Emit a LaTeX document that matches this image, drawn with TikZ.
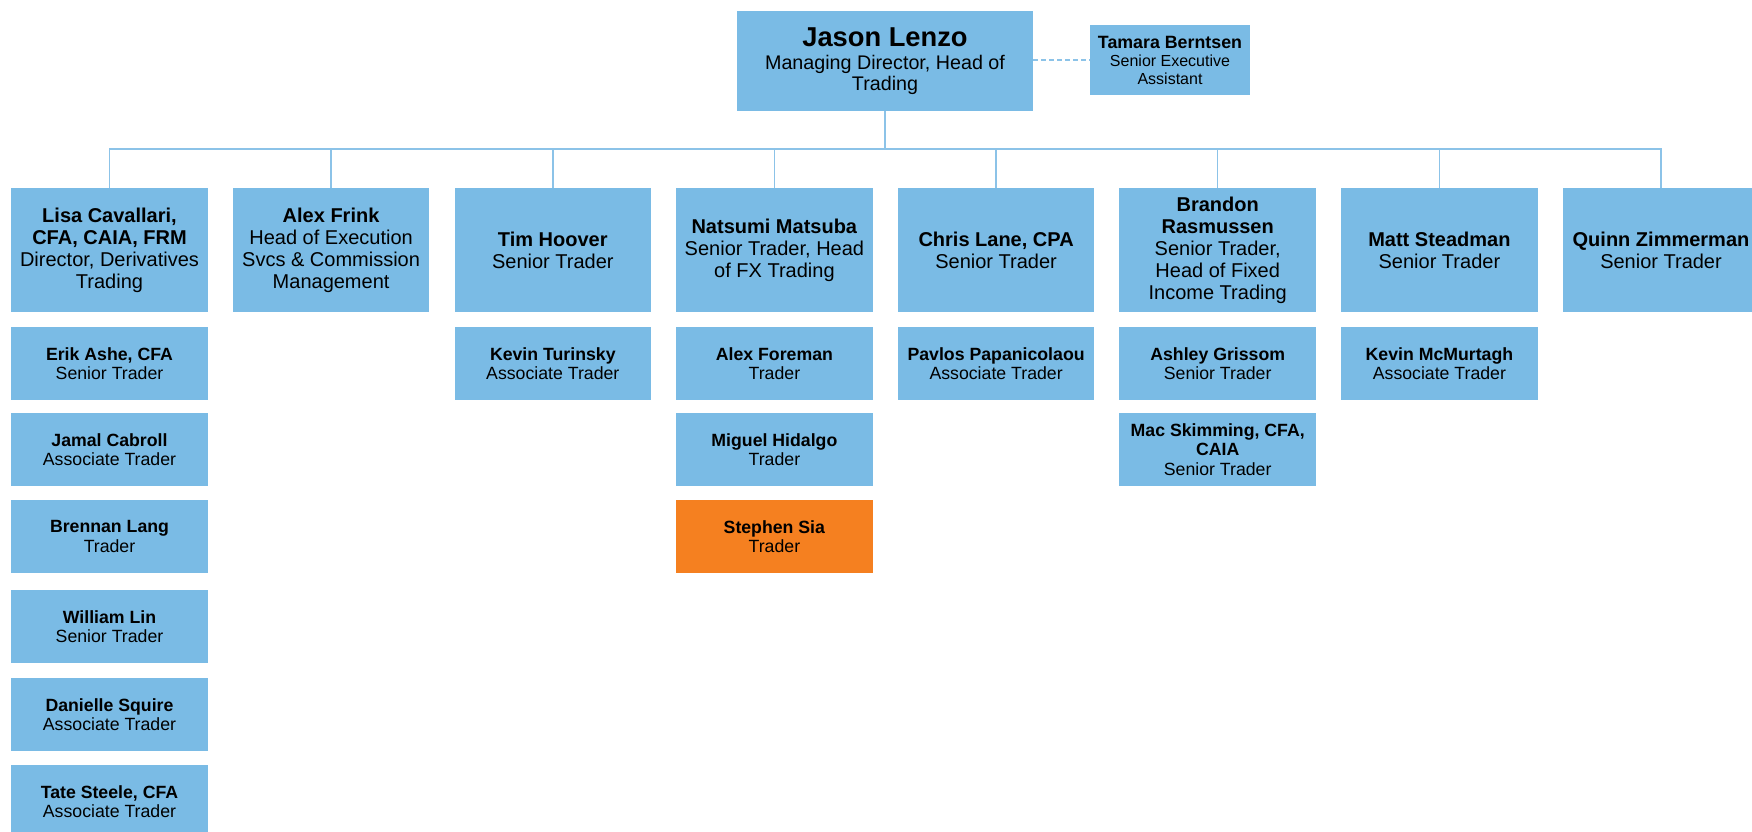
\documentclass[tikz,border=0pt]{standalone}
\usepackage{fontspec}
\setmainfont{Liberation Sans}
\definecolor{boxblue}{RGB}{122,187,229}
\definecolor{lineblue}{RGB}{140,195,232}
\definecolor{boxorange}{RGB}{245,128,32}
\tikzset{
  orgbox/.style={fill=boxblue, draw=none, inner sep=2pt, align=center, text=black, minimum width=196.6pt},
  topbox/.style={orgbox, minimum height=124pt, font=\fontsize{20}{22}\selectfont},
  subbox/.style={orgbox, minimum height=73pt, font=\fontsize{17.7}{19.5}\selectfont},
  conn/.style={draw=lineblue, line width=1.5pt},
  dashconn/.style={draw=lineblue, line width=1.5pt, dash pattern=on 5pt off 3pt}
}
\begin{document}
\begin{tikzpicture}[x=1pt, y=-1pt]
\useasboundingbox (0,0) rectangle (1752,831);
\clip (0,0) rectangle (1752,831);
% head
\node[orgbox, minimum width=296pt, minimum height=100pt, font=\fontsize{19.7}{21}\selectfont] (jason) at (885,61)
  {{\fontsize{27.3}{27}\selectfont\textbf{Jason Lenzo}}\\[2pt]Managing Director, Head of\\Trading};
\node[orgbox, minimum width=160pt, minimum height=70pt, font=\fontsize{16}{18}\selectfont] (tamara) at (1170,60)
  {{\fontsize{17.8}{18}\selectfont\textbf{Tamara Berntsen}}\\Senior Executive\\Assistant};
% level 1
\node[topbox] (lisa) at (109.5,250) {\textbf{Lisa Cavallari,}\\\textbf{CFA, CAIA, FRM}\\Director, Derivatives\\Trading};
\node[topbox] (alex) at (331.1,250) {\textbf{Alex Frink}\\Head of Execution\\Svcs \& Commission\\Management};
\node[topbox] (tim) at (552.8,250) {\textbf{Tim Hoover}\\Senior Trader};
\node[topbox] (natsumi) at (774.4,250) {\textbf{Natsumi Matsuba}\\Senior Trader, Head\\of FX Trading};
\node[topbox] (chris) at (996.1,250) {\textbf{Chris Lane, CPA}\\Senior Trader};
\node[topbox] (brandon) at (1217.7,250) {\textbf{Brandon}\\\textbf{Rasmussen}\\Senior Trader,\\Head of Fixed\\Income Trading};
\node[topbox] (matt) at (1439.4,250) {\textbf{Matt Steadman}\\Senior Trader};
\node[topbox] (quinn) at (1661,250) {\textbf{Quinn Zimmerman}\\Senior Trader};
% Lisa column
\node[subbox] (erik) at (109.5,363.5) {\textbf{Erik Ashe, CFA}\\Senior Trader};
\node[subbox] (jamal) at (109.5,449.5) {\textbf{Jamal Cabroll}\\Associate Trader};
\node[subbox] (brennan) at (109.5,536.5) {\textbf{Brennan Lang}\\Trader};
\node[subbox] (william) at (109.5,626.5) {\textbf{William Lin}\\Senior Trader};
\node[subbox] (danielle) at (109.5,714.5) {\textbf{Danielle Squire}\\Associate Trader};
\node[subbox] (tate) at (109.5,801.5) {\textbf{Tate Steele, CFA}\\Associate Trader};
% Tim column
\node[subbox] (kevint) at (552.8,363.5) {\textbf{Kevin Turinsky}\\Associate Trader};
% Natsumi column
\node[subbox] (foreman) at (774.4,363.5) {\textbf{Alex Foreman}\\Trader};
\node[subbox] (miguel) at (774.4,449.5) {\textbf{Miguel Hidalgo}\\Trader};
\node[subbox, fill=boxorange] (stephen) at (774.4,536.5) {\textbf{Stephen Sia}\\Trader};
% Chris column
\node[subbox] (pavlos) at (996.1,363.5) {\textbf{Pavlos Papanicolaou}\\Associate Trader};
% Brandon column
\node[subbox] (ashley) at (1217.7,363.5) {\textbf{Ashley Grissom}\\Senior Trader};
\node[subbox] (mac) at (1217.7,449.5) {\textbf{Mac Skimming, CFA,}\\\textbf{CAIA}\\Senior Trader};
% Matt column
\node[subbox] (kevinm) at (1439.4,363.5) {\textbf{Kevin McMurtagh}\\Associate Trader};
% connectors
\coordinate (bus) at (885,149);
\draw[dashconn] (jason.east |- tamara.west) -- (tamara.west);
\draw[conn] (jason.south) -- (bus);
\draw[conn] (lisa.north) -- (lisa.north |- bus) -- (quinn.north |- bus) -- (quinn.north);
\foreach \n in {alex,tim,natsumi,chris,brandon,matt}
  \draw[conn] (\n.north) -- (\n.north |- bus);
\end{tikzpicture}
\end{document}
